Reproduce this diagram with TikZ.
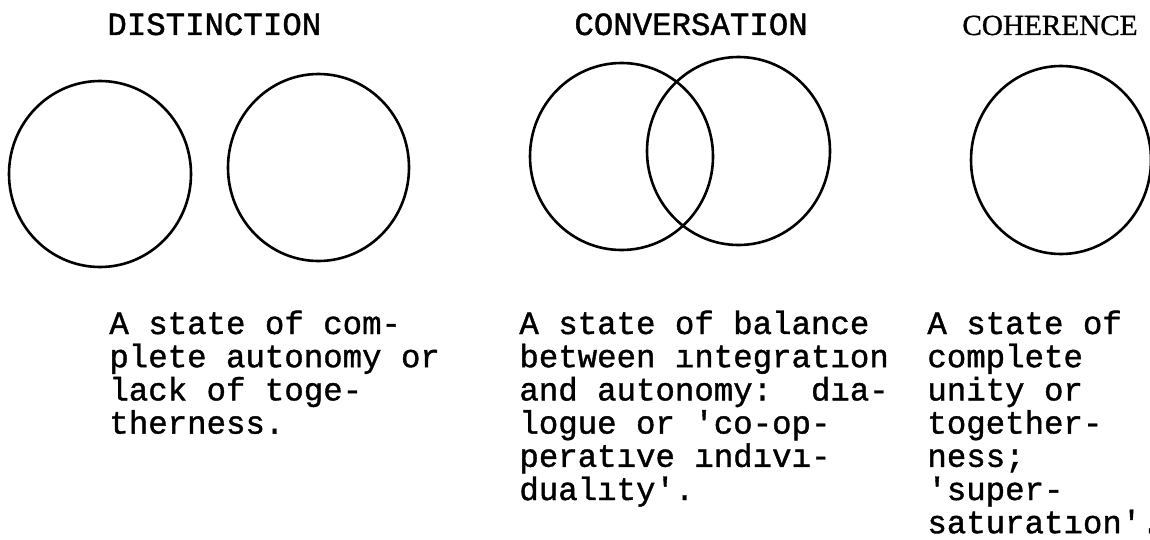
\documentclass[tikz,border=0pt]{standalone}
\usepackage{fontspec}
\setmonofont{Liberation Mono}[FakeBold=1.2]
\newfontfamily\serifhead{Liberation Serif}[FakeBold=1.0]
\begin{document}
\begin{tikzpicture}[x=0.5pt,y=-0.5pt,
  ring/.style={draw=black, line width=1.3pt},
  tw/.style={font=\ttfamily\frenchspacing\fontsize{16.2}{16.6}\selectfont, anchor=base west, inner sep=0pt},
  headser/.style={font=\serifhead\fontsize{14.6}{16}\selectfont, anchor=base west, inner sep=0pt}]
\useasboundingbox (0,0) rectangle (1150,540);

% titles
\node[tw] (t1) at (107,35) {DISTINCTION};
\node[tw] (t2) at (574,35) {CONVERSATION};
\node[headser] (t3) at (962,35) {COHERENCE};

% circles
\draw[ring] (100,174) ellipse [x radius=45.5pt, y radius=46.5pt];
\draw[ring] (318.5,167.5) ellipse [x radius=45.25pt, y radius=46.75pt];
\draw[ring] (621.5,156.5) ellipse [x radius=45.75pt, y radius=46.75pt];
\draw[ring] (738.5,151) ellipse [x radius=45.75pt, y radius=47pt];
\draw[ring] (1061,160) ellipse [x radius=45pt, y radius=47pt];

% descriptions
\foreach \t [count=\i] in {A state of com-, plete autonomy or, lack of toge-, therness.}
  \node[tw] (a\i) at (109,{334+(\i-1)*33.2}) {\t};
\foreach \t [count=\i] in {A state of balance, between ıntegratıon, and autonomy:~ dıa-, logue or 'co-op-, peratıve ındıvı-, dualıty'.}
  \node[tw] (b\i) at (519,{334+(\i-1)*33.2}) {\t};
\foreach \t [count=\i] in {A state of, complete, unity or, together-, ness;, 'super-, saturatıon'.}
  \node[tw] (c\i) at (927,{334+(\i-1)*33.2}) {\t};
\end{tikzpicture}
\end{document}
